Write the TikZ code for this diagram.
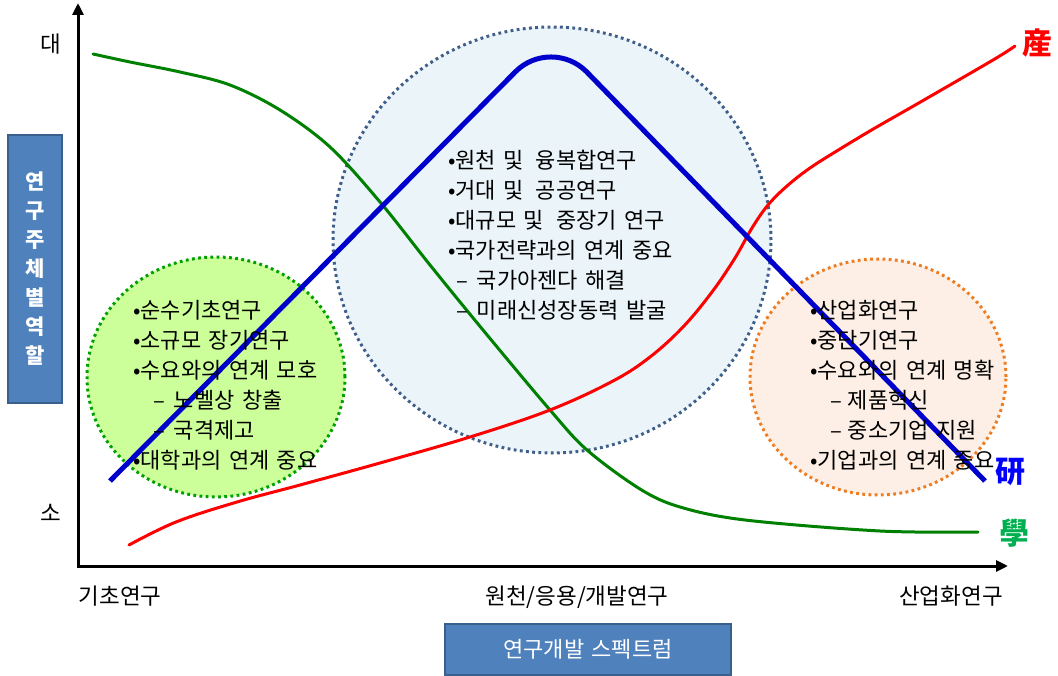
\documentclass[tikz,border=0pt]{standalone}
\usepackage{fontspec}
\setmainfont[WordSpace=1.5]{Noto Sans CJK KR}
\usetikzlibrary{arrows.meta,shapes.geometric}
\definecolor{boxblue}{HTML}{4F81BD}
\definecolor{boxedge}{HTML}{3A5F8C}
\definecolor{lgreen}{HTML}{CCFF99}
\definecolor{dgreen}{HTML}{00A000}
\definecolor{lblue}{HTML}{EAF4F9}
\definecolor{dblue}{HTML}{3F5F8A}
\definecolor{lpeach}{HTML}{FDEFE5}
\definecolor{dorange}{HTML}{EE7D22}
\definecolor{curvegreen}{HTML}{008000}
\definecolor{curvered}{HTML}{FF0000}
\definecolor{curveblue}{HTML}{0000CC}
\definecolor{hakgreen}{HTML}{00B050}
\definecolor{yeonblue}{HTML}{0000FF}
\begin{document}
\begin{tikzpicture}[x=1pt,y=-1pt,font=\fontsize{22}{26}\selectfont,
  axis/.style={line width=3pt,line join=miter,{Triangle[length=12pt,width=11pt]}-{Triangle[length=12pt,width=11pt]}},
  bubble/.style={ellipse,inner sep=0pt,line width=3pt,dash pattern=on 2.8pt off 3.4pt},
  item/.style={anchor=west,inner sep=0pt},
  axlabel/.style={font=\fontsize{22.5}{26}\selectfont},
  hanja/.style={inner sep=0pt,font=\fontsize{30}{32}\selectfont\bfseries},
  labelbox/.style={draw=boxedge,fill=boxblue,line width=2pt,text=white,inner sep=0pt},
  curve/.style={line width=3pt,line cap=round}]
\useasboundingbox (0,0) rectangle (1058,676);

% bubbles
\node[bubble,fill=lgreen,draw=dgreen,minimum width=258pt,minimum height=240pt] (basic) at (216,377) {};
\node[bubble,fill=lblue,draw=dblue,minimum width=438pt,minimum height=426pt] (applied) at (552,240) {};
\node[bubble,fill=lpeach,draw=dorange,minimum width=256pt,minimum height=236pt] (industry) at (878,377) {};

% axes
\coordinate (ytip) at (78,3);
\coordinate (O) at (78,566);
\coordinate (xtip) at (1008,566);
\draw[axis] (ytip) -- (O) -- (xtip);

% curves
\draw[curve,curvegreen] plot[smooth,tension=0.55] coordinates {(93,54) (130,62) (180,72) (230,85) (280,110) (330,147) (380,202) (430,265) (483,330) (550,410) (587,450) (640,489) (680,507) (745,520) (880,531) (978,532)};
\draw[curve,curvered] plot[smooth,tension=0.6] coordinates {(129,545) (176,522) (237,502) (300,485) (380,463) (470,437) (550,410) (613,381) (650,357) (683,327) (712,292) (735,258) (752,228) (768,205) (787,186) (810,168) (840,149) (875,128) (917,104) (993,60) (1015,46)};
\draw[curveblue,line width=5pt,line join=round] (110,481) -- (515.6,71.6) .. controls (535.1,52.1) and (566.9,52.1) .. (586.4,71.6) -- (985,481);

% left bubble text
\node[item] (l1) at (133,310) {•순수기초연구};
\node[item] (l2) at (133,340) {•소규모 장기연구};
\node[item] (l3) at (133,370) {•수요와의 연계 모호};
\node[item] (l4) at (153,400) {–\hspace{9pt}노벨상 창출};
\node[item] (l5) at (153,430) {–\hspace{9pt}국격제고};
\node[item] (l6) at (133,460) {•대학과의 연계 중요};

% center bubble text
\node[item] (c1) at (448,160) {•원천 및\hspace{12pt}융복합연구};
\node[item] (c2) at (448,190) {•거대 및\hspace{12pt}공공연구};
\node[item] (c3) at (448,220) {•대규모 및\hspace{12pt}중장기 연구};
\node[item] (c4) at (448,250) {•국가전략과의 연계 중요};
\node[item] (c5) at (456,280) {–\hspace{9pt}국가아젠다 해결};
\node[item] (c6) at (456,310) {–\hspace{9pt}미래신성장동력 발굴};

% right bubble text
\node[item] (r1) at (810,310) {•산업화연구};
\node[item] (r2) at (810,340) {•중단기연구};
\node[item] (r3) at (810,370) {•수요와의 연계 명확};
\node[item] (r4) at (830,400) {–\hspace{6pt}제품혁신};
\node[item] (r5) at (830,430) {–\hspace{6pt}중소기업 지원};
\node[item] (r6) at (810,460) {•기업과의 연계 중요};

% axis labels
\node[axlabel] (big) at (51,44) {대};
\node[axlabel] (small) at (51,513) {소};
\node[axlabel] (xl1) at (120,596) {기초연구};
\node[axlabel] (xl2) at (577,597) {원천/응용/개발연구};
\node[axlabel] (xl3) at (951,596) {산업화연구};

% label boxes
\node[labelbox,minimum width=286pt,minimum height=51pt] (spectrum) at (588,649) {연구개발 스펙트럼};
\node[labelbox,minimum width=54pt,minimum height=268pt,align=center,font=\fontsize{21}{29}\selectfont\bfseries] (role) at (35,269) {연\\구\\주\\체\\별\\역\\할};

% hanja
\node[hanja,text=curvered] (san) at (1037,43) {産};
\node[hanja,text=yeonblue] (yeon) at (1010,472) {研};
\node[hanja,text=hakgreen] (hak) at (1014,533) {學};
\end{tikzpicture}
\end{document}
